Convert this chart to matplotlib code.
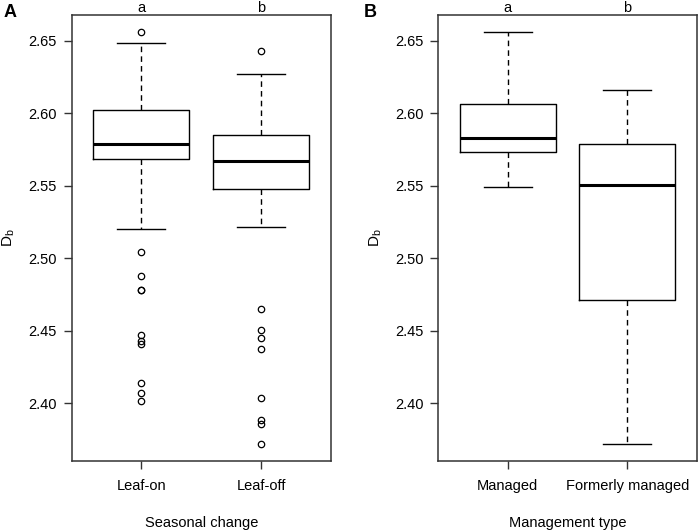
import matplotlib
matplotlib.use('Agg')
import matplotlib.pyplot as plt
import numpy as np

plt.rcParams['font.family'] = ['Liberation Sans', 'DejaVu Sans']

# panel A: seasonal change
season_labels = ['Leaf-on', 'Leaf-off']
season_letters = ['a', 'b']
season_whislo = [2.5203, 2.5217]
season_q1 = [2.5685, 2.5476]
season_med = [2.5787, 2.5670]
season_q3 = [2.6020, 2.5850]
season_whishi = [2.6484, 2.6272]
season_fliers = [
    [2.6564, 2.5042, 2.4874, 2.4782, 2.4780, 2.4472, 2.4426, 2.4408, 2.4138, 2.4069, 2.4014],
    [2.6433, 2.4652, 2.4507, 2.4447, 2.4371, 2.4038, 2.3882, 2.3857, 2.3714],
]

# panel B: management type
manage_labels = ['Managed', 'Formerly managed']
manage_letters = ['a', 'b']
manage_whislo = [2.5491, 2.3714]
manage_q1 = [2.5731, 2.4714]
manage_med = [2.5828, 2.5502]
manage_q3 = [2.6066, 2.5787]
manage_whishi = [2.6564, 2.6158]
manage_fliers = [[], []]

yticks = [2.40, 2.45, 2.50, 2.55, 2.60, 2.65]

W, H = 699, 532
fig = plt.figure(figsize=(W / 100, H / 100), dpi=100)


def panel(rect, labels, letters, lo, q1, med, q3, hi, fliers, xlabel, tag, tagx, ylabx):
    ax = fig.add_axes(rect)
    stats = []
    for i in range(len(labels)):
        stats.append(dict(whislo=lo[i], q1=q1[i], med=med[i], q3=q3[i],
                          whishi=hi[i], fliers=fliers[i]))
    ax.bxp(stats, positions=[1, 2], widths=0.8,
           boxprops=dict(color='black', lw=1),
           medianprops=dict(color='black', lw=2.2, solid_capstyle='butt'),
           whiskerprops=dict(color='black', lw=1, linestyle=(0, (4, 3))),
           capprops=dict(color='black', lw=1),
           capwidths=0.4,
           flierprops=dict(marker='o', markerfacecolor='none',
                           markeredgecolor='black', markersize=4.6, mew=0.9))
    allv = list(lo) + list(hi) + [v for f in fliers for v in f]
    vmin, vmax = min(allv), max(allv)
    r = vmax - vmin
    ax.set_ylim(vmin - 0.04 * r, vmax + 0.04 * r)
    ax.set_xlim(0.42, 2.58)
    ax.set_yticks(yticks)
    ax.set_yticklabels(['%.2f' % t for t in yticks])
    ax.set_xticks([1, 2])
    ax.set_xticklabels(labels)
    ax.tick_params(axis='y', length=5.8, width=1, pad=5, labelsize=10.5, color='#333333')
    ax.tick_params(axis='x', length=5.8, width=1, pad=7.5, labelsize=10.5, color='#333333')
    for s in ax.spines.values():
        s.set_color('#333333')
        s.set_linewidth(1.1)
    for i, t in enumerate(letters):
        ax.annotate(t, xy=(i + 1, 1), xycoords=('data', 'axes fraction'),
                    xytext=(0, 2.4), textcoords='offset points',
                    ha='center', va='baseline', fontsize=10.5)
    x0 = rect[0] + rect[2] / 2
    fig.text(x0, 1 - 522.7 / H, xlabel, ha='center', va='center', fontsize=10.5)
    fig.text(tagx / W, 1 - 12.2 / H, tag, ha='center', va='center',
             fontsize=13, fontweight='bold')
    fig.text(ylabx / W, 1 - 238 / H, r'$\mathregular{D_b}$', ha='center', va='center',
             rotation=90, fontsize=11)
    return ax


bottom = 1 - 461 / H
height = (461 - 15) / H
panel([71.7 / W, bottom, (330.7 - 71.7) / W, height], season_labels, season_letters,
      season_whislo, season_q1, season_med, season_q3, season_whishi, season_fliers,
      'Seasonal change', 'A', 10.5, 9)
panel([438.3 / W, bottom, (696.7 - 438.3) / W, height], manage_labels, manage_letters,
      manage_whislo, manage_q1, manage_med, manage_q3, manage_whishi, manage_fliers,
      'Management type', 'B', 370.5, 376)

fig.savefig('out.png', dpi=100)
plt.close()
